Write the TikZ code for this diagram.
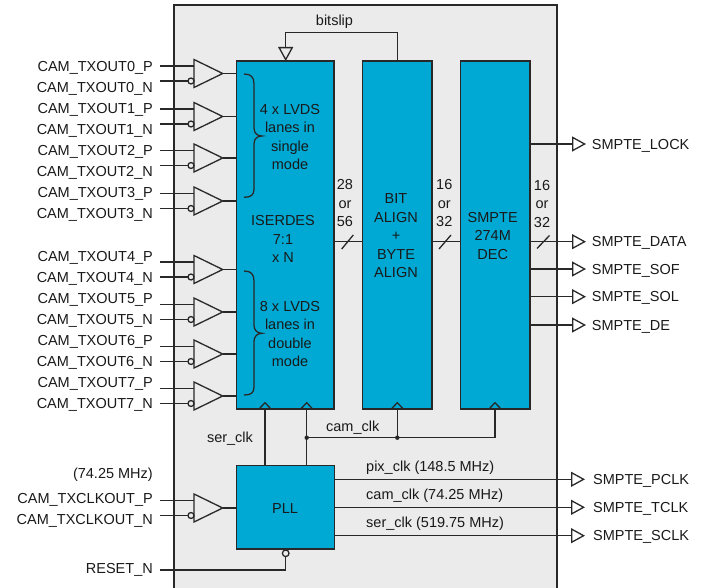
\documentclass[tikz,border=0pt]{standalone}
\usepackage{fontspec}
\setmainfont{Liberation Sans}
\usetikzlibrary{arrows.meta}
\definecolor{blk}{RGB}{0,169,212}
\definecolor{panel}{RGB}{235,235,235}
\definecolor{ln}{RGB}{40,40,40}
\definecolor{tx}{RGB}{25,25,25}
\begin{document}
\begin{tikzpicture}[x=1pt,y=-1pt,
  every node/.style={font=\fontsize{14.5}{18.4}\selectfont, text=tx},
  block/.style={draw=ln, line width=1.5pt, fill=blk, inner sep=0pt, outer sep=0pt},
  wire/.style={draw=ln, line width=1.3pt},
  lbl/.style={inner sep=0pt, text height=10.5pt, text depth=0pt},
  txt/.style={inner sep=0pt, align=center},
  oarrow/.style={-{Triangle[open,length=14pt,width=15pt,line width=1.3pt]}}]
\useasboundingbox (0,0) rectangle (705,588);
% panel
\fill[panel] (174,5) rectangle (557,600);
\draw[wire] (174,600) -- (174,5) -- (557,5) -- (557,600);
% blocks
\node[block, minimum width=97.3pt, minimum height=348pt] (iser) at (285.35,235) {};
\node[block, minimum width=69.3pt, minimum height=348pt] (bit) at (397.35,235) {};
\node[block, minimum width=69.3pt, minimum height=348pt] (dec) at (495.35,235) {};
\node[block, minimum width=97.6pt, minimum height=83.3pt] (pll) at (285.5,507.35) {};
\node[txt] (pllt) at (285,508.5) {PLL};
% block texts
\node[txt] (t4) at (290,137.2) {4 x LVDS\\lanes in\\single\\mode};
\node[txt] (tis) at (283,239.2) {ISERDES\\7:1\\x N};
\node[txt] (t8) at (290,334) {8 x LVDS\\lanes in\\double\\mode};
\node[txt] (tbit) at (396,235.8) {BIT\\ALIGN\\+\\BYTE\\ALIGN};
\node[txt] (tdec) at (492.7,235.7) {SMPTE\\274M\\DEC};
% braces
\draw[wire] (244,74) .. controls (251,74) and (254,77) .. (254,84) -- (254,128)
  .. controls (254,133) and (257,136) .. (262,136)
  .. controls (257,136) and (254,139) .. (254,144) -- (254,189)
  .. controls (254,195) and (251,197.3) .. (244,197.3);
\draw[wire] (244,271) .. controls (251,271) and (254,274) .. (254,281) -- (254,325)
  .. controls (254,330) and (257,333.3) .. (262,333.3)
  .. controls (257,333.3) and (254,336.6) .. (254,341.6) -- (254,387)
  .. controls (254,393) and (251,395) .. (244,395);
% input buffers
\foreach \i/\c in {0/73.5,1/116.5,2/158,3/201,4/269.5,5/312,6/354,7/396}{
  \draw[wire] (194,\c-14) -- (222.7,\c) -- (194,\c+14) -- cycle;
  \coordinate (bo\i) at (222.7,\c);
  \draw[wire] (bo\i) -- (iser.west |- bo\i);
  \coordinate (pi\i) at (160,\c-7.5);
  \coordinate (ni\i) at (160,\c+7.5);
  \draw[wire] (pi\i) -- (194,\c-7.5);
  \draw[wire] (ni\i) -- (188,\c+7.5);
  \draw[wire] (191,\c+7.5) circle (3pt);
}
\foreach \i/\p/\n in {0/66.5/87.5,1/108.5/129.5,2/150/171,3/192/213,4/256/277,5/298/319,6/340/361,7/382/403}{
  \node[lbl, anchor=east] (lp\i) at (153,\p) {CAM\_TXOUT\i\_P};
  \node[lbl, anchor=east] (ln\i) at (153,\n) {CAM\_TXOUT\i\_N};
}
% clock input buffer
\draw[wire] (194,494) -- (222.7,508) -- (194,522) -- cycle;
\coordinate (cbo) at (222.7,508);
\draw[wire] (cbo) -- (pll.west |- cbo);
\coordinate (cpi) at (160,500.5);
\coordinate (cni) at (160,515.5);
\draw[wire] (cpi) -- (194,500.5);
\draw[wire] (cni) -- (188,515.5);
\draw[wire] (191,515.5) circle (3pt);
\node[lbl, anchor=east] (freq) at (153,473.3) {(74.25 MHz)};
\node[lbl, anchor=east] (cp) at (153,498.7) {CAM\_TXCLKOUT\_P};
\node[lbl, anchor=east] (cn) at (153,519) {CAM\_TXCLKOUT\_N};
% reset
\node[lbl, anchor=east] (rst) at (153,568.3) {RESET\_N};
\coordinate (rs) at (160,570);
\coordinate (rb) at (285.7,556.6);
\draw[wire] (rs) -| (rb);
\draw[wire] (285.7,553.3) circle (3.3pt);
% bitslip
\coordinate (bs) at (285.7,32.7);
\draw[wire, oarrow] (bit.north) |- (bs) -- (bs |- iser.north);
\node[lbl] (bsl) at (334.5,20) {bitslip};
% buses
\coordinate (busy) at (0,241.7);
\draw[wire] (iser.east |- busy) -- (bit.west |- busy);
\draw[wire] (bit.east |- busy) -- (dec.west |- busy);
\draw[wire] (341.7,249) -- (353.3,235);
\draw[wire] (439,249) -- (451,235);
\draw[wire] (537,248.5) -- (549.5,235.5);
\node[txt] (w1) at (345,203.3) {28\\or\\56};
\node[txt] (w2) at (444.3,203.3) {16\\or\\32};
\node[txt] (w3) at (542,204) {16\\or\\32};
% decoder outputs
\foreach \y/\t in {144/LOCK,241.7/DATA,269/SOF,296.7/SOL,325/DE}{
  \coordinate (o\t) at (586,\y);
  \draw[wire, oarrow] (dec.east |- o\t) -- (o\t);
  \node[lbl, anchor=west] (l\t) at (591.7,\y) {SMPTE\_\t};
}
% PLL outputs
\foreach \y/\t/\s in {479.3/PCLK/pix\_clk (148.5 MHz),507.3/TCLK/cam\_clk (74.25 MHz),535.7/SCLK/ser\_clk (519.75 MHz)}{
  \coordinate (o\t) at (585,\y);
  \draw[wire, oarrow] (pll.east |- o\t) -- (o\t);
  \node[lbl, anchor=west] (l\t) at (593,\y) {SMPTE\_\t};
  \node[lbl, anchor=west] (s\t) at (366,\y-13.5) {\s};
}
% clock marks
\foreach \x/\n in {265/1,306.7/2,397.3/3,495/4}{
  \coordinate (ck\n) at (\x,409);
  \draw[wire] (\x-6,409) -- (\x,402.7) -- (\x+6,409);
}
\coordinate (j1) at (306.7,437.7);
\coordinate (j2) at (397.3,437.7);
\draw[wire] (ck1) -- (ck1 |- pll.north);
\draw[wire] (ck2) -- (ck2 |- pll.north);
\draw[wire] (ck3) -- (j2);
\draw[wire] (ck4) |- (j1);
\fill[ln] (j1) circle (2.2pt);
\fill[ln] (j2) circle (2.2pt);
\node[lbl] (sck) at (230,437.3) {ser\_clk};
\node[lbl] (cck) at (352.7,426) {cam\_clk};
\end{tikzpicture}
\end{document}
